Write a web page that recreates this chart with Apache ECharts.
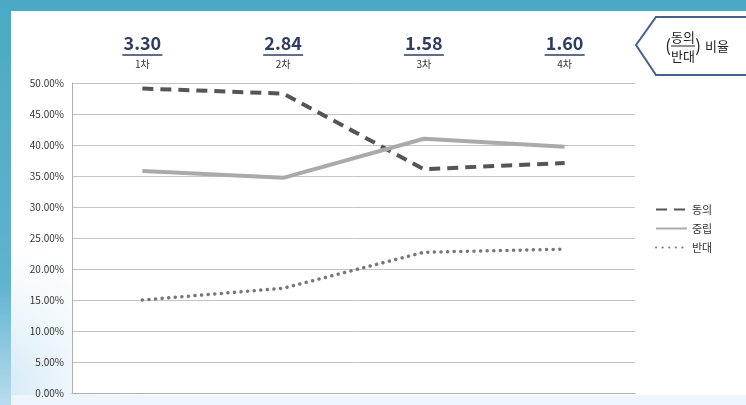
<!DOCTYPE html>
<html><head><meta charset="utf-8">
<script src="https://cdn.jsdelivr.net/npm/echarts@6/dist/echarts.min.js"></script>
<style>html,body{margin:0;padding:0;background:#fff}#c{width:746px;height:405px}</style>
</head><body><div id="c"></div>
<script>
const categories = ['1차', '2차', '3차', '4차'];
const ratios = ['3.30', '2.84', '1.58', '1.60'];
const agree = [49.1, 48.3, 36.1, 37.1];
const neutral = [35.8, 34.7, 41.0, 39.7];
const oppose = [15.0, 16.9, 22.7, 23.2];
const yTicks = { min: 0, max: 50, interval: 5 };

const chart = echarts.init(document.getElementById('c'));
const FONT = '"Noto Sans CJK KR", "Noto Sans", sans-serif';
chart.setOption({
  backgroundColor: '#fff',
  animation: false,
  textStyle: { fontFamily: FONT },
  graphic: [
    { type: 'rect', z: -10, shape: { x: 0, y: 0, width: 746, height: 405 },
      style: { fill: { type: 'radial', x: 0, y: 0.95, r: 0.35, colorStops: [
        { offset: 0, color: '#d6eaf6' }, { offset: 0.5, color: '#eef6fb' }, { offset: 1, color: '#ffffff' }] } } },
    { type: 'rect', z: -9, shape: { x: 72, y: 83, width: 563, height: 310 }, style: { fill: '#fff' } },
    { type: 'rect', z: -9, shape: { x: 0, y: 395, width: 746, height: 10 }, style: { fill: '#eef6fb' } },
    { type: 'rect', z: -5, shape: { x: 0, y: 0, width: 746, height: 11 }, style: { fill: '#4aa9c4' } },
    { type: 'rect', z: -5, shape: { x: 0, y: 0, width: 11, height: 405 },
      style: { fill: { type: 'linear', x: 0, y: 0, x2: 0, y2: 1, colorStops: [
        { offset: 0, color: '#4aa9c4' }, { offset: 0.7, color: '#5fb3cf' }, { offset: 1, color: '#b9dcee' }] } } },
    { type: 'polygon', shape: { points: [[636, 45], [656, 17], [750, 17], [750, 75], [656, 75]] },
      style: { fill: '#fff', stroke: '#45608f', lineWidth: 2 } },
    { type: 'text', style: { text: '(', x: 668, y: 46, fontSize: 17, fill: '#222', align: 'center', verticalAlign: 'middle', fontFamily: FONT } },
    { type: 'text', style: { text: '동의', x: 683, y: 37, fontSize: 13, fill: '#222', align: 'center', verticalAlign: 'middle', fontFamily: FONT } },
    { type: 'line', shape: { x1: 671, y1: 46, x2: 695, y2: 46 }, style: { stroke: '#222', lineWidth: 1 } },
    { type: 'text', style: { text: '반대', x: 683, y: 56, fontSize: 13, fill: '#222', align: 'center', verticalAlign: 'middle', fontFamily: FONT } },
    { type: 'text', style: { text: ')', x: 698, y: 46, fontSize: 17, fill: '#222', align: 'center', verticalAlign: 'middle', fontFamily: FONT } },
    { type: 'text', style: { text: '비율', x: 717, y: 46, fontSize: 13, fill: '#222', align: 'center', verticalAlign: 'middle', fontFamily: FONT } }
  ],
  grid: { left: 72, right: 111, top: 83, bottom: 12, containLabel: false },
  legend: {
    orient: 'vertical', left: 650, top: 199, itemGap: 8, itemWidth: 31, itemHeight: 8,
    itemStyle: { opacity: 0 },
    textStyle: { fontSize: 11, color: '#333', fontFamily: FONT },
    data: ['동의', '중립', '반대']
  },
  xAxis: [
    { type: 'category', data: categories, position: 'bottom',
      axisLine: { lineStyle: { color: '#b0b0b0' } }, axisTick: { show: false }, axisLabel: { show: false } },
    { type: 'category', data: categories, position: 'top', offset: 10,
      axisLine: { show: false }, axisTick: { show: false },
      axisLabel: {
        interval: 0, margin: 0,
        formatter: (v, i) => '{v|' + ratios[i] + '}\n{u|}\n{c|' + v + '}',
        rich: {
          v: { fontSize: 18, fontWeight: 'bold', color: '#2f3d62', fontFamily: FONT, lineHeight: 22 },
          u: { width: 40, height: 1.5, backgroundColor: '#2f3d62', lineHeight: 2 },
          c: { fontSize: 10, color: '#333', fontFamily: FONT, lineHeight: 17 }
        }
      } }
  ],
  yAxis: {
    type: 'value', min: yTicks.min, max: yTicks.max, interval: yTicks.interval,
    axisLine: { show: true, lineStyle: { color: '#b0b0b0' } }, axisTick: { show: false },
    splitLine: { lineStyle: { color: '#c4c4c4' } },
    axisLabel: { formatter: v => v.toFixed(2) + '%', fontSize: 10, color: '#333', margin: 8, fontFamily: FONT }
  },
  series: [
    { name: '동의', type: 'line', data: agree, symbol: 'none', color: '#555',
      lineStyle: { color: '#555', width: 4, type: [11, 7] } },
    { name: '중립', type: 'line', data: neutral, symbol: 'none', color: '#aaa',
      lineStyle: { color: '#aaa', width: 4 } },
    { name: '반대', type: 'line', data: oppose, symbol: 'none', color: '#777',
      lineStyle: { color: '#777', width: 3.5, type: [0.1, 6.5], cap: 'round' } }
  ]
});
</script></body></html>
